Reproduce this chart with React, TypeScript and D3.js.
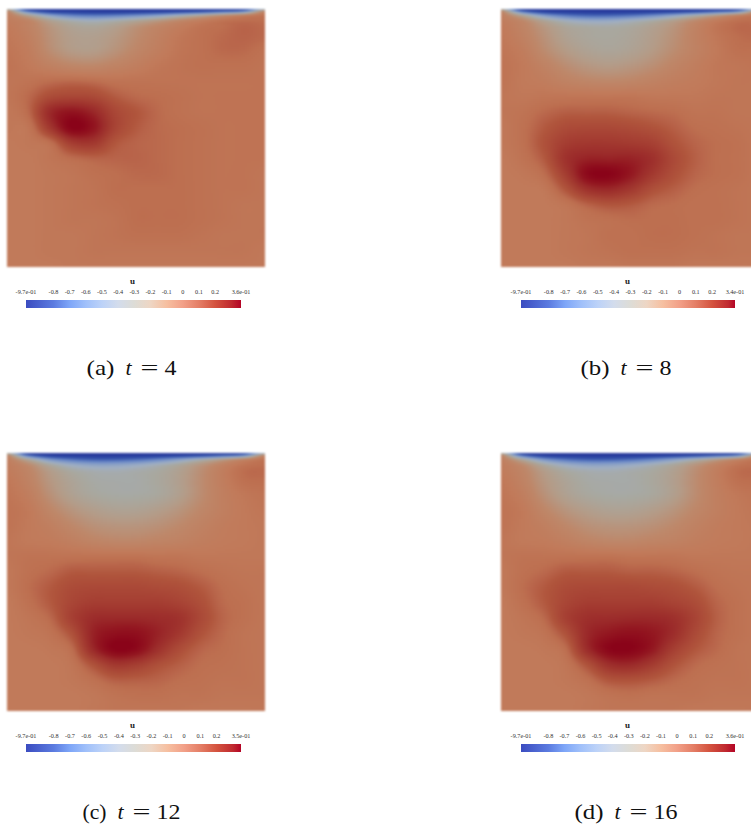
import React, { useEffect, useRef } from "react";
import * as d3 from "d3";

const W = 751, H = 829;
// depth (fraction of panel) of each field row; columns are evenly spaced 0..1
const rowDepths = [0, .01, .025, .045, .07, .11, .16, .22, .28, .34, .4, .46, .52, .58, .64, .7, .76, .82, .88, .94, 1];

// u x 100
const fieldA = [
  [-30, -95, -97, -97, -97, -97, -97, -97, -97, -97, -96, -90, -40],
  [-8, -62, -86, -90, -92, -92, -91, -88, -84, -78, -68, -55, -8],
  [-4, -24, -48, -62, -66, -64, -58, -50, -38, -26, -14, -4, 3],
  [-2, -8, -24, -34, -38, -34, -27, -19, -10, -3, 3, 5, 5],
  [0, -6, -17, -25, -27, -23, -15, -8, -2, 3, 5, 7, 6],
  [1, -4, -15, -22, -23, -19, -12, -5, 1, 4, 6, 7, 6],
  [2, -2, -13, -20, -21, -16, -9, -3, 2, 4, 6, 6, 4],
  [3, 0, -5, -9, -10, -7, -3, 1, 3, 4, 4, 4, 3],
  [2, 3, 5, 6, 5, 3, 3, 3, 3, 3, 3, 3, 3],
  [2, 6, 13, 15, 14, 9, 6, 5, 4, 3, 3, 3, 3],
  [1, 6, 25, 31, 26, 15, 10, 6, 4, 3, 3, 3, 3],
  [1, 2, 20, 36, 31, 16, 9, 6, 5, 4, 3, 3, 3],
  [0, 1, 4, 18, 20, 10, 7, 6, 5, 4, 3, 3, 3],
  [0, 0, 2, 5, 7, 7, 7, 6, 5, 4, 3, 3, 3],
  [0, 0, 1, 2, 4, 5, 6, 6, 5, 4, 3, 3, 2],
  [0, 0, 1, 2, 3, 5, 5, 5, 5, 4, 3, 3, 2],
  [0, 0, 1, 2, 3, 4, 5, 5, 5, 4, 3, 2, 2],
  [0, 0, 1, 2, 2, 3, 5, 5, 5, 4, 3, 2, 2],
  [0, 0, 1, 1, 2, 3, 4, 4, 4, 3, 2, 2, 2],
  [0, 0, 1, 1, 2, 2, 2, 2, 2, 2, 2, 2, 1],
  [0, 0, 0, 1, 1, 1, 1, 1, 1, 1, 1, 1, 1],
];
const fieldB = [
  [-30, -95, -97, -97, -97, -97, -97, -97, -97, -97, -96, -90, -40],
  [-8, -65, -88, -92, -93, -93, -92, -90, -86, -80, -70, -55, -8],
  [-4, -26, -52, -66, -72, -72, -68, -60, -48, -34, -20, -6, 3],
  [-2, -10, -26, -38, -44, -44, -39, -32, -23, -12, -2, 4, 5],
  [0, -7, -18, -27, -30, -31, -29, -24, -17, -7, 2, 6, 6],
  [1, -5, -15, -24, -28, -29, -27, -22, -15, -6, 1, 5, 6],
  [2, -2, -12, -20, -25, -27, -25, -20, -13, -6, 0, 4, 4],
  [3, 0, -6, -13, -18, -20, -18, -14, -8, -3, 1, 2, 3],
  [3, 0, -2, -6, -9, -10, -9, -6, -3, -1, 1, 2, 2],
  [2, 1, 2, 2, 2, 2, 2, 1, 1, 1, 2, 2, 2],
  [2, 3, 6, 8, 8, 8, 7, 6, 5, 3, 3, 2, 2],
  [1, 4, 9, 13, 14, 14, 13, 11, 8, 5, 4, 3, 2],
  [1, 4, 11, 18, 20, 20, 19, 17, 11, 7, 5, 4, 2],
  [0, 3, 9, 22, 27, 27, 27, 23, 14, 8, 5, 4, 2],
  [0, 1, 5, 18, 34, 36, 30, 20, 12, 7, 5, 4, 2],
  [0, 0, 1, 10, 22, 25, 20, 12, 8, 5, 4, 3, 2],
  [0, 0, 0, 2, 7, 10, 9, 6, 5, 4, 4, 3, 2],
  [0, 0, 0, 1, 3, 4, 5, 5, 5, 4, 4, 3, 2],
  [0, 0, 0, 1, 2, 4, 4, 5, 5, 4, 3, 2, 2],
  [0, 0, 0, 1, 2, 3, 4, 4, 4, 3, 3, 2, 2],
  [0, 0, 0, 0, 1, 1, 2, 2, 2, 1, 1, 1, 1],
];
const fieldC = [
  [-30, -95, -97, -97, -97, -97, -97, -97, -97, -97, -96, -90, -40],
  [-8, -65, -88, -92, -93, -93, -92, -90, -86, -80, -70, -55, -8],
  [-4, -28, -55, -68, -74, -74, -70, -62, -50, -36, -22, -8, 3],
  [-2, -12, -30, -42, -48, -48, -44, -37, -29, -18, -7, 2, 5],
  [-1, -8, -21, -30, -34, -35, -33, -30, -24, -14, -3, 5, 6],
  [1, -6, -18, -26, -31, -32, -32, -29, -23, -13, -3, 4, 5],
  [2, -3, -15, -24, -29, -31, -31, -29, -23, -13, -4, 1, 3],
  [3, 0, -9, -17, -22, -25, -25, -22, -17, -10, -4, 0, 2],
  [3, 0, -4, -10, -15, -17, -17, -15, -11, -6, -2, 0, 1],
  [2, 0, -1, -4, -8, -10, -10, -8, -6, -3, -1, 0, 1],
  [2, 3, 3, 3, 3, 3, 3, 2, 2, 1, 1, 1, 1],
  [1, 4, 6, 9, 9, 9, 9, 8, 7, 5, 3, 2, 2],
  [1, 5, 9, 13, 14, 14, 14, 13, 12, 9, 5, 3, 2],
  [0, 4, 9, 15, 18, 18, 18, 18, 16, 12, 6, 4, 2],
  [0, 2, 6, 17, 24, 25, 25, 24, 22, 14, 7, 4, 2],
  [0, 1, 3, 11, 27, 32, 32, 27, 20, 11, 6, 3, 2],
  [0, 0, 1, 5, 25, 36, 34, 23, 13, 7, 5, 3, 2],
  [0, 0, 0, 2, 11, 20, 18, 12, 8, 5, 4, 3, 2],
  [0, 0, 0, 1, 4, 8, 8, 7, 5, 4, 3, 3, 2],
  [0, 0, 0, 0, 1, 3, 4, 4, 3, 3, 2, 2, 2],
  [0, 0, 0, 0, 1, 2, 2, 2, 2, 1, 1, 1, 1],
];
const fieldD = [
  [-30, -95, -97, -97, -97, -97, -97, -97, -97, -97, -96, -90, -40],
  [-8, -65, -88, -92, -93, -93, -92, -90, -86, -80, -70, -55, -8],
  [-4, -28, -55, -68, -74, -74, -70, -62, -50, -36, -22, -8, 3],
  [-2, -12, -30, -42, -48, -48, -44, -37, -29, -18, -7, 2, 5],
  [-1, -8, -21, -30, -34, -35, -33, -30, -24, -14, -3, 5, 6],
  [1, -6, -18, -26, -31, -32, -32, -29, -23, -13, -3, 4, 5],
  [2, -3, -15, -24, -29, -31, -31, -29, -23, -13, -4, 1, 3],
  [3, 0, -9, -17, -22, -25, -25, -22, -17, -10, -4, 0, 2],
  [3, 0, -4, -10, -15, -17, -17, -15, -11, -6, -2, 0, 1],
  [2, 0, -1, -4, -8, -10, -10, -8, -6, -3, -1, 0, 1],
  [2, 3, 3, 3, 3, 3, 2, 2, 2, 1, 1, 1, 1],
  [1, 4, 6, 9, 9, 9, 8, 8, 7, 5, 3, 2, 2],
  [1, 5, 9, 13, 14, 14, 14, 13, 12, 9, 5, 3, 2],
  [0, 4, 9, 15, 18, 18, 18, 18, 16, 13, 7, 4, 2],
  [0, 2, 6, 17, 23, 24, 25, 25, 23, 16, 8, 4, 2],
  [0, 1, 3, 11, 25, 30, 32, 30, 24, 14, 7, 4, 2],
  [0, 0, 1, 5, 24, 35, 36, 30, 18, 10, 6, 3, 2],
  [0, 0, 0, 2, 11, 23, 25, 19, 11, 6, 4, 3, 2],
  [0, 0, 0, 1, 4, 10, 11, 9, 6, 4, 3, 3, 2],
  [0, 0, 0, 0, 1, 3, 4, 3, 3, 3, 2, 2, 2],
  [0, 0, 0, 0, 1, 2, 2, 2, 2, 1, 1, 1, 1],
];

// lit surface colours seen in the panels
const surfaceDomain = [-97, -80, -60, -40, -30, -20, -10, 0, 5, 7, 10, 15, 20, 25, 30, 36];
const surfaceColors = ["#26379a", "#3250aa", "#6e8cc8", "#a0afc3", "#a8a8a0", "#b49b87", "#be8769", "#c17a5a", "#bd6f50", "#b8644a", "#b0553c", "#a94636", "#a2382f", "#9b2a2a", "#931620", "#8a0319"];
// legend colour bar stops
const barDomain = [-0.97, -0.8, -0.7, -0.6, -0.5, -0.4, -0.3, -0.2, -0.1, 0, 0.1, 0.2, 0.3, 0.36];
const barColors = ["#3b4cc0", "#5b7be0", "#7ea6f8", "#a0c0fa", "#bcd2f8", "#d3dcec", "#dddcd6", "#eed6c4", "#f6bfa0", "#f2a088", "#e47e66", "#d4533f", "#c02a30", "#b40426"];

const tickValues = [-0.8, -0.7, -0.6, -0.5, -0.4, -0.3, -0.2, -0.1, 0, 0.1, 0.2];
const uMin = -0.97;
const panelNames = ["(a)", "(b)", "(c)", "(d)"];
const panelTimes = [4, 8, 12, 16];
const panelMaxima = [0.36, 0.34, 0.35, 0.36];
const maxLabels = ["3.6e-01", "3.4e-01", "3.5e-01", "3.6e-01"];
const panelFields = [fieldA, fieldB, fieldC, fieldD];
const panelLefts = [7, 501, 7, 501];
const panelTops = [9, 9, 453, 453];
const barLefts = [26, 521, 26, 521];
const barWidths = [215, 214, 215, 214];
const captionCentres = [131.5, 626, 131.5, 626];
const nameWidths = [28, 29, 24, 29];

const SIZE = 258;

function cr(a: number, b: number, c: number, d: number, t: number) {
  return 0.5 * (2 * b + (c - a) * t + (2 * a - 5 * b + 4 * c - d) * t * t + (3 * b - a - 3 * c + d) * t * t * t);
}

function sample(f: number[][], fx: number, fy: number) {
  const nr = f.length, nc = f[0].length;
  const r = Math.min(Math.floor(fy), nr - 2), c = Math.min(Math.floor(fx), nc - 2);
  const ty = fy - r, tx = fx - c;
  const rowAt = (i: number) => {
    const row = f[Math.max(0, Math.min(nr - 1, i))];
    const g = (j: number) => row[Math.max(0, Math.min(nc - 1, j))];
    return cr(g(c - 1), g(c), g(c + 1), g(c + 2), tx);
  };
  return cr(rowAt(r - 1), rowAt(r), rowAt(r + 1), rowAt(r + 2), ty);
}

export default function App() {
  const ref = useRef<SVGSVGElement | null>(null);
  useEffect(() => {
    const svg = d3.select(ref.current);
    svg.selectAll("*").remove();
    const color = d3.scaleLinear<string>().domain(surfaceDomain).range(surfaceColors).interpolate(d3.interpolateRgb).clamp(true);
    const defs = svg.append("defs");
    const soft = defs.append("filter").attr("id", "soft").attr("x", "-2%").attr("y", "-2%").attr("width", "104%").attr("height", "104%").attr("color-interpolation-filters", "sRGB");
    soft.append("feGaussianBlur").attr("stdDeviation", 0.8);
    panelFields.forEach((field, p) => {
      const x0 = panelLefts[p], y0 = panelTops[p];
      const toCol = d3.scaleLinear().domain([0, SIZE]).range([0, field[0].length - 1]);
      const toRow = d3.scaleLinear().domain(rowDepths.map((d) => d * SIZE)).range(rowDepths.map((_, i) => i));
      const g = svg.append("g").attr("shape-rendering", "crispEdges").attr("filter", "url(#soft)");
      let py = 0;
      while (py < SIZE) {
        const h = py < 34 ? 1 : 2;
        const fy = toRow(py + h / 2);
        for (let px = 0; px < SIZE; px += 2) {
          if (x0 + px > W) break;
          const v = sample(field, toCol(px + 1), fy);
          g.append("rect").attr("x", x0 + px).attr("y", y0 + py).attr("width", 2).attr("height", h).attr("fill", color(v));
        }
        py += h;
      }
      // legend
      const barX = barLefts[p], barW = barWidths[p];
      const bx = d3.scaleLinear().domain([uMin, panelMaxima[p]]).range([barX, barX + barW]);
      const gid = "bar" + p;
      const lg = defs.append("linearGradient").attr("id", gid);
      barDomain.forEach((d, i) => {
        const u = Math.min(d, panelMaxima[p]);
        lg.append("stop").attr("offset", (bx(u) - barX) / barW).attr("stop-color", barColors[i]);
      });
      const top = y0 + 291;
      svg.append("rect").attr("x", barX).attr("y", top).attr("width", barW).attr("height", 8).attr("fill", `url(#${gid})`);
      svg.append("text").attr("x", barX + 106.5).attr("y", top - 16.5).attr("text-anchor", "middle")
        .attr("font-family", "Liberation Serif").attr("font-weight", "bold").attr("font-size", 9).attr("fill", "#222").text("u");
      const tl = svg.append("g").attr("font-family", "Liberation Serif").attr("font-size", 6.2).attr("fill", "#333").attr("text-anchor", "middle");
      tl.append("text").attr("x", bx(uMin)).attr("y", top - 6).text("-9.7e-01");
      tickValues.forEach((t) => {
        tl.append("text").attr("x", bx(t)).attr("y", top - 6).text(String(t));
      });
      tl.append("text").attr("x", bx(panelMaxima[p])).attr("y", top - 6).text(maxLabels[p]);
      // caption, set piece by piece to keep the wide math spacing
      const label = String(panelTimes[p]);
      const nameW = nameWidths[p];
      const total = nameW + 50 + 12 * label.length;
      const sx = captionCentres[p] - total / 2;
      const cy = y0 + 366;
      const cap = svg.append("g").attr("font-family", "Liberation Serif").attr("font-size", 22).attr("fill", "#111");
      cap.append("text").attr("x", sx).attr("y", cy).attr("textLength", nameW).attr("lengthAdjust", "spacingAndGlyphs").text(panelNames[p]);
      cap.append("text").attr("x", sx + nameW + 11).attr("y", cy).attr("font-style", "italic").text("t");
      cap.append("text").attr("x", sx + nameW + 26).attr("y", cy).attr("textLength", 18).attr("lengthAdjust", "spacingAndGlyphs").text("=");
      cap.append("text").attr("x", sx + nameW + 50).attr("y", cy).attr("textLength", 12 * label.length).attr("lengthAdjust", "spacingAndGlyphs").text(label);
    });
  }, []);
  return <svg ref={ref} width={W} height={H} style={{ position: "absolute", left: 0, top: 0, display: "block" }} />;
}
